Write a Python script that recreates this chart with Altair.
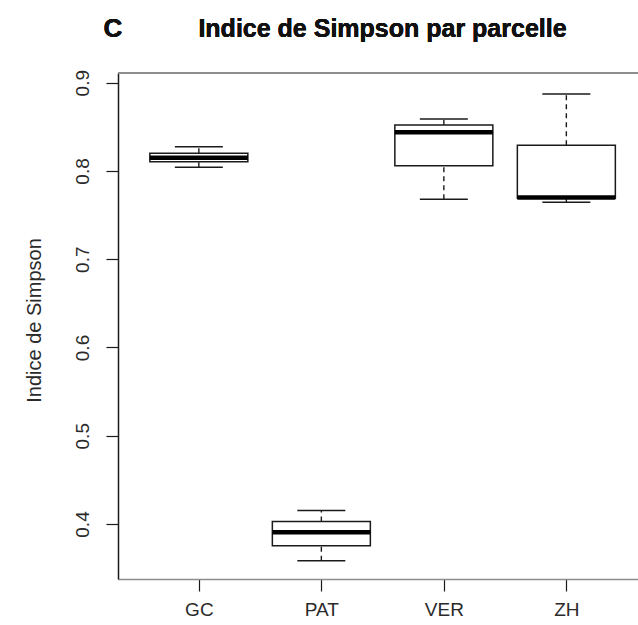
import altair as alt
import pandas as pd

# Simpson diversity index per plot: five-number summaries of each boxplot
parcelles = ["GC", "PAT", "VER", "ZH"]
positions = [1, 2, 3, 4]
whisker_low = [0.8042, 0.3583, 0.7680, 0.7646]
q1 = [0.8105, 0.3753, 0.8060, 0.7690]
median = [0.8151, 0.3908, 0.8438, 0.7700]
q3 = [0.8200, 0.4028, 0.8521, 0.8291]
whisker_high = [0.8275, 0.4153, 0.8589, 0.8872]

y_ticks = [0.4, 0.5, 0.6, 0.7, 0.8, 0.9]

df = pd.DataFrame({
    "parcelle": parcelles,
    "pos": positions,
    "lo": whisker_low,
    "q1": q1,
    "med": median,
    "q3": q3,
    "hi": whisker_high,
})

W, H = 520, 506
INK = "#1a1a1a"
FRAME = "#8c8c8c"

label_expr = "[" + ",".join(f"'{p}'" for p in parcelles) + "][datum.value - 1]"

x_scale = alt.Scale(domain=[0.34, 0.34 + W / 122.5], nice=False, zero=False)
y_scale = alt.Scale(domain=[0.3377, 0.911], nice=False, zero=False)

x_enc = alt.X(
    "pos:Q", scale=x_scale, title=None,
    axis=alt.Axis(values=positions, labelExpr=label_expr, grid=False,
                  domain=True, domainColor=FRAME, domainWidth=1.5,
                  tickColor=INK, tickSize=12, tickWidth=1.2,
                  labelFontSize=19, labelColor="#2a2a2a", labelFont="Liberation Sans",
                  labelBaseline="alphabetic", labelPadding=24),
)
y_axis = alt.Axis(values=y_ticks, format=".1f", grid=False,
                  domain=True, domainColor=INK, domainWidth=1.5,
                  tickColor=INK, tickSize=12, tickWidth=1.2,
                  labelAngle=-90, labelAlign="center", labelBaseline="alphabetic",
                  labelPadding=18, labelFontSize=19, labelColor="#2a2a2a",
                  labelFont="Liberation Sans",
                  title="Indice de Simpson", titleFont="Liberation Sans",
                  titleFontSize=20, titleFontWeight="normal", titleColor="#2a2a2a",
                  titleAngle=-90, titleBaseline="alphabetic", titleAlign="center",
                  titleX=-78, titleY=247)

base = alt.Chart(df)

whisker_up = base.mark_rule(color=INK, strokeWidth=1.4, strokeDash=[5, 4]).encode(
    x=x_enc, y=alt.Y("q3:Q", scale=y_scale, axis=y_axis), y2="hi:Q")
whisker_dn = base.mark_rule(color=INK, strokeWidth=1.4, strokeDash=[5, 4]).encode(
    x="pos:Q", y="lo:Q", y2="q1:Q")

staple_hi = base.mark_tick(color=INK, orient="horizontal", size=48, thickness=1.4,
                           opacity=1).encode(x="pos:Q", y="hi:Q")
staple_lo = base.mark_tick(color=INK, orient="horizontal", size=48, thickness=1.4,
                           opacity=1).encode(x="pos:Q", y="lo:Q")

box = base.transform_calculate(
    xa="datum.pos - 0.4", xb="datum.pos + 0.4"
).mark_rect(fill="white", stroke=INK, strokeWidth=1.5).encode(
    x="xa:Q", x2="xb:Q", y="q1:Q", y2="q3:Q")

med = base.mark_tick(color="#000000", orient="horizontal", size=98, thickness=4.5,
                     opacity=1).encode(x="pos:Q", y="med:Q")

top_frame = alt.Chart(df).mark_rule(color=FRAME, strokeWidth=1.5).encode(
    x=alt.value(0), x2=alt.value(W), y=alt.value(0))

heading = alt.Chart(df).mark_text(
    text="Indice de Simpson par parcelle", font="Liberation Sans", fontWeight="bold",
    fontSize=25, color="#111111", align="center", baseline="alphabetic"
).encode(x=alt.value(264.5), y=alt.value(-36))

panel_letter = alt.Chart(df).mark_text(
    text="C", font="Liberation Sans", fontWeight="bold", fontSize=26,
    color="#111111", align="center", baseline="alphabetic"
).encode(x=alt.value(-5), y=alt.value(-36))

chart = alt.layer(
    whisker_up, whisker_dn, staple_hi, staple_lo, box, med, top_frame,
    heading, panel_letter
).properties(
    width=W, height=H,
    background="white",
    padding={"left": 118, "top": 73, "right": 0, "bottom": 46},
    autosize=alt.AutoSizeParams(type="none"),
).configure_view(stroke=None)

chart.save("out.html", embed_options={"renderer": "svg", "actions": False})
